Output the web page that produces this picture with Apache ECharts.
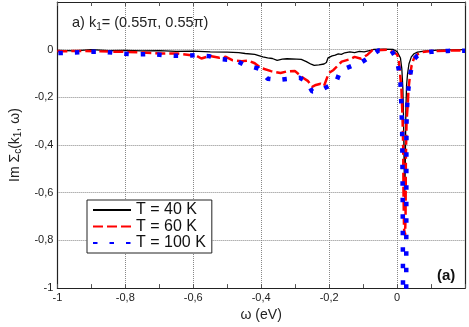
<!DOCTYPE html>
<html>
<head>
<meta charset="utf-8">
<script src="https://cdn.jsdelivr.net/npm/echarts@6/dist/echarts.min.js"></script>
<style>
html,body{margin:0;padding:0;background:#fff;}
#chart{width:469px;height:327px;}
</style>
</head>
<body>
<div id="chart"></div>
<script>
// ---- data ----
var seriesNames = ['T = 40 K', 'T = 60 K', 'T = 100 K'];
var xTickLabels = ['-1', '-0,8', '-0,6', '-0,4', '-0,2', '0'];
var yTickLabels = ['-1', '-0,8', '-0,6', '-0,4', '-0,2', '0'];

var omega40 = [-1.0, -0.95, -0.9, -0.85, -0.8, -0.75, -0.7, -0.65, -0.6, -0.55, -0.5, -0.466, -0.447, -0.419, -0.395, -0.381, -0.367, -0.353, -0.338, -0.324, -0.296, -0.282, -0.267, -0.253, -0.244, -0.230, -0.215, -0.208, -0.203, -0.191, -0.182, -0.173, -0.164, -0.154, -0.139, -0.125, -0.111, -0.097, -0.078, -0.068, -0.040, -0.011, 0.000, 0.005, 0.010, 0.014, 0.017, 0.019, 0.021, 0.0225, 0.024, 0.026, 0.028, 0.031, 0.035, 0.042, 0.05, 0.06, 0.08, 0.12, 0.2];
var im40 = [-0.003, -0.005, 0.0, -0.004, -0.003, -0.005, -0.004, -0.007, -0.006, -0.009, -0.010, -0.012, -0.016, -0.020, -0.030, -0.034, -0.037, -0.045, -0.040, -0.038, -0.040, -0.041, -0.050, -0.061, -0.066, -0.064, -0.060, -0.054, -0.034, -0.026, -0.023, -0.018, -0.020, -0.013, -0.009, -0.012, -0.007, -0.009, -0.003, 0.001, 0.002, 0.001, -0.008, -0.015, -0.035, -0.08, -0.16, -0.28, -0.5, -0.62, -0.5, -0.25, -0.15, -0.10, -0.06, -0.03, -0.017, -0.010, -0.006, -0.002, 0.0];

var omega60 = [-1.0, -0.988, -0.931, -0.874, -0.808, -0.751, -0.694, -0.646, -0.590, -0.576, -0.552, -0.523, -0.504, -0.485, -0.457, -0.438, -0.419, -0.400, -0.371, -0.343, -0.324, -0.301, -0.277, -0.262, -0.250, -0.239, -0.225, -0.215, -0.201, -0.187, -0.163, -0.139, -0.125, -0.106, -0.087, -0.073, -0.030, -0.011, 0.000, 0.005, 0.010, 0.013, 0.016, 0.018, 0.019, 0.0205, 0.0235, 0.025, 0.026, 0.028, 0.031, 0.034, 0.038, 0.043, 0.05, 0.06, 0.075, 0.1, 0.15, 0.2];
var im60 = [-0.006, -0.007, -0.005, -0.007, -0.009, -0.012, -0.016, -0.016, -0.026, -0.037, -0.026, -0.034, -0.030, -0.044, -0.048, -0.046, -0.057, -0.077, -0.090, -0.098, -0.091, -0.089, -0.118, -0.132, -0.156, -0.148, -0.143, -0.152, -0.098, -0.085, -0.050, -0.040, -0.030, -0.038, -0.021, -0.003, 0.000, -0.010, -0.020, -0.04, -0.12, -0.17, -0.28, -0.40, -0.60, -0.75, -0.78, -0.70, -0.45, -0.30, -0.24, -0.16, -0.11, -0.065, -0.035, -0.020, -0.010, -0.006, -0.004, -0.003];

var omega100 = [-0.997, -0.950, -0.904, -0.860, -0.815, -0.768, -0.724, -0.680, -0.635, -0.590, -0.554, -0.519, -0.476, -0.449, -0.408, -0.381, -0.351, -0.320, -0.287, -0.267, -0.250, -0.228, -0.206, -0.180, -0.167, -0.133, -0.106, -0.080, -0.054, -0.016, -0.005, 0.002, 0.007, 0.010, 0.013, 0.015, 0.0165, 0.018, 0.024, 0.027, 0.0275, 0.028, 0.030, 0.033, 0.037, 0.043, 0.05, 0.06, 0.075, 0.1, 0.15, 0.2];
var im100 = [-0.014, -0.012, -0.009, -0.009, -0.016, -0.020, -0.018, -0.024, -0.026, -0.023, -0.027, -0.040, -0.044, -0.064, -0.079, -0.122, -0.127, -0.122, -0.118, -0.132, -0.175, -0.173, -0.156, -0.139, -0.088, -0.068, -0.054, -0.030, -0.003, -0.005, -0.030, -0.06, -0.10, -0.14, -0.24, -0.33, -0.60, -1.2, -1.4, -1.0, -0.40, -0.30, -0.23, -0.17, -0.12, -0.07, -0.04, -0.025, -0.014, -0.009, -0.005, -0.004];

function pairs(xs, ys) { return xs.map(function (x, i) { return [x, ys[i]]; }); }
function fmt(v) {
  var r = Math.round(v * 10) / 10;
  if (r > 0.15) return '';
  var s = String(r).replace('.', ',');
  return s;
}

var chart = echarts.init(document.getElementById('chart'), null, {renderer: 'canvas'});
var axisColor = '#222';
var ff = 'Liberation Sans, Arial, sans-serif';
var option = {
  animation: false,
  backgroundColor: '#fff',
  textStyle: {fontFamily: ff},
  title: {
    text: 'a) k{s|1}= (0.55π, 0.55π)',
    left: 67, top: 9,
    textStyle: {
      fontSize: 14.5, fontWeight: 'normal', color: '#222', fontFamily: ff,
      rich: {s: {fontSize: 10, verticalAlign: 'bottom', padding: [8, 0, 0, 0], color: '#222', fontFamily: ff}}
    }
  },
  graphic: [{
    type: 'text', left: 437, top: 268,
    style: {text: '(a)', font: 'bold 15px "Liberation Sans", Arial, sans-serif', fill: '#111'}
  }],
  grid: {left: 43, right: 4, top: 2, bottom: 31, containLabel: false},
  legend: {
    orient: 'vertical', left: 87, top: 200,
    padding: [2, 6, 2, 5],
    borderColor: '#222', borderWidth: 1, backgroundColor: '#fff',
    itemWidth: 38, itemHeight: 14, itemGap: 0.5,
    itemStyle: {opacity: 0},
    textStyle: {fontSize: 16, color: '#111', lineHeight: 14, fontFamily: ff},
    data: seriesNames
  },
  xAxis: [{
    type: 'value', min: -1, max: 0.2, interval: 0.2,
    name: 'ω (eV)', nameLocation: 'middle', nameGap: 17,
    nameTextStyle: {fontSize: 14, color: '#222', fontFamily: ff},
    axisLine: {show: true, onZero: false, lineStyle: {color: axisColor, width: 1.2}},
    axisTick: {show: true, inside: true, length: 4, lineStyle: {color: '#555'}},
    minorTick: {show: true, splitNumber: 2, length: 4, lineStyle: {color: '#555'}},
    axisLabel: {fontSize: 11, color: '#222', margin: 4, formatter: fmt, showMaxLabel: false},
    splitLine: {show: true, lineStyle: {type: 'dotted', color: '#888', width: 1}}
  }, {
    type: 'value', position: 'top', min: -1, max: 0.2, interval: 0.2,
    axisLine: {show: true, onZero: false, lineStyle: {color: axisColor, width: 1.2}},
    axisTick: {show: true, inside: true, length: 4, lineStyle: {color: '#555'}},
    minorTick: {show: true, splitNumber: 2, length: 4, lineStyle: {color: '#555'}},
    axisLabel: {show: false}, splitLine: {show: false}
  }],
  yAxis: [{
    type: 'value', min: -1, max: 0.2, interval: 0.2,
    name: '{n|Im Σ}{s|c}{n|(k}{s|1}{n|, ω)}', nameLocation: 'middle', nameGap: 26, nameRotate: 90,
    nameTextStyle: {
      color: '#222',
      rich: {
        n: {fontSize: 14, color: '#222', fontFamily: ff},
        s: {fontSize: 10, color: '#222', verticalAlign: 'bottom', padding: [7, 0, 0, 0], fontFamily: ff}
      }
    },
    axisLine: {show: true, onZero: false, lineStyle: {color: axisColor, width: 1.2}},
    axisTick: {show: false},
    axisLabel: {fontSize: 11, color: '#222', margin: 4, formatter: fmt, showMaxLabel: false},
    splitLine: {show: true, lineStyle: {type: 'dotted', color: '#888', width: 1}}
  }, {
    type: 'value', position: 'right', min: -1, max: 0.2, interval: 0.2,
    axisLine: {show: true, onZero: false, lineStyle: {color: axisColor, width: 1.2}},
    axisTick: {show: false}, axisLabel: {show: false}, splitLine: {show: false}
  }],
  series: [{
    name: seriesNames[0], type: 'line', showSymbol: false, symbol: 'none', clip: true,
    data: pairs(omega40, im40),
    lineStyle: {color: '#000', width: 1.3},
    itemStyle: {color: '#000'}
  }, {
    name: seriesNames[1], type: 'line', showSymbol: false, symbol: 'none', clip: true,
    data: pairs(omega60, im60),
    lineStyle: {color: '#ff0000', width: 2.5, type: [10, 4]},
    itemStyle: {color: '#ff0000'}
  }, {
    name: seriesNames[2], type: 'line', showSymbol: false, symbol: 'none', clip: true,
    data: pairs(omega100, im100),
    lineStyle: {color: '#0000ff', width: 4.5, type: [4.5, 12], cap: 'butt'},
    itemStyle: {color: '#0000ff'}
  }]
};
chart.setOption(option);
</script>
</body>
</html>
